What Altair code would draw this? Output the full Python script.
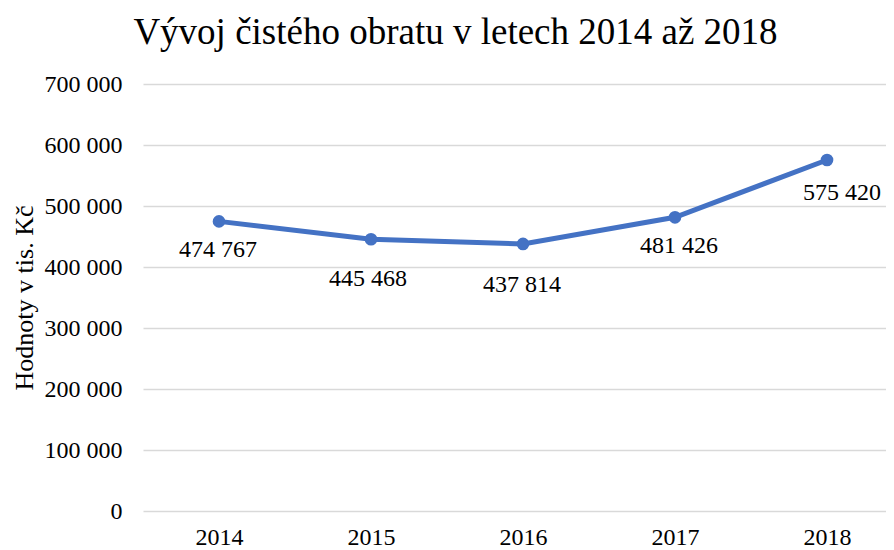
import altair as alt
import pandas as pd

years = ["2014", "2015", "2016", "2017", "2018"]
values = [474767, 445468, 437814, 481426, 575420]
y_ticks = [0, 100000, 200000, 300000, 400000, 500000, 600000, 700000]

# label nudges (styling only)
label_dx = [-1, -3, -1, 4, 15]
label_dy = [29, 40, 41, 29, 33]

def fmt(v):
    return f"{v:,}".replace(",", " ")

df = pd.DataFrame({"year": years, "value": values,
                   "label": [fmt(v) for v in values]})

FONT = "Liberation Serif"
BLUE = "#4472C4"

x_enc = alt.X("year:N", sort=years,
              scale=alt.Scale(type="point", padding=0.444, align=0.563),
              axis=alt.Axis(title=None, labelAngle=0, ticks=False, domain=False,
                            grid=False, labelPadding=14, labelFontSize=24,
                            labelFont=FONT, labelColor="#000000"))
y_enc = alt.Y("value:Q",
              scale=alt.Scale(domain=[0, 700000], nice=False),
              axis=alt.Axis(title="Hodnoty v tis. Kč", values=y_ticks,
                            labelExpr="replace(format(datum.value, ','), ',', ' ')",
                            ticks=False, domain=False, grid=True,
                            gridColor="#D9D9D9", gridWidth=1.5,
                            labelPadding=21, labelFontSize=24, labelFont=FONT,
                            labelColor="#000000", titleFont=FONT,
                            titleFontSize=26, titleFontWeight="normal",
                            titleColor="#000000", titlePadding=7))

base = alt.Chart(df)
line = base.mark_line(color=BLUE, strokeWidth=5).encode(x=x_enc, y=y_enc)
pts = base.mark_point(color=BLUE, filled=True, size=160, opacity=1).encode(x="year:N", y="value:Q")

texts = []
for yr, dx, dy in zip(years, label_dx, label_dy):
    texts.append(
        base.transform_filter(alt.datum.year == yr)
        .mark_text(font=FONT, fontSize=24, color="#000000", dx=dx, dy=dy,
                   baseline="middle", align="center")
        .encode(x="year:N", y="value:Q", text="label:N")
    )

chart = alt.layer(line, pts, *texts).properties(
    width=743, height=427,
    title=alt.TitleParams("Vývoj čistého obratu v letech 2014 až 2018",
                          font=FONT, fontSize=37, fontWeight="normal",
                          color="#000000", anchor="middle", dx=-59, offset=20),
    autosize=alt.AutoSizeParams(type="none"),
    padding={"left": 135, "top": 76, "right": 0, "bottom": 38},
).configure_view(stroke=None)

chart.save("out.html", embed_options={"renderer": "svg", "actions": False})
